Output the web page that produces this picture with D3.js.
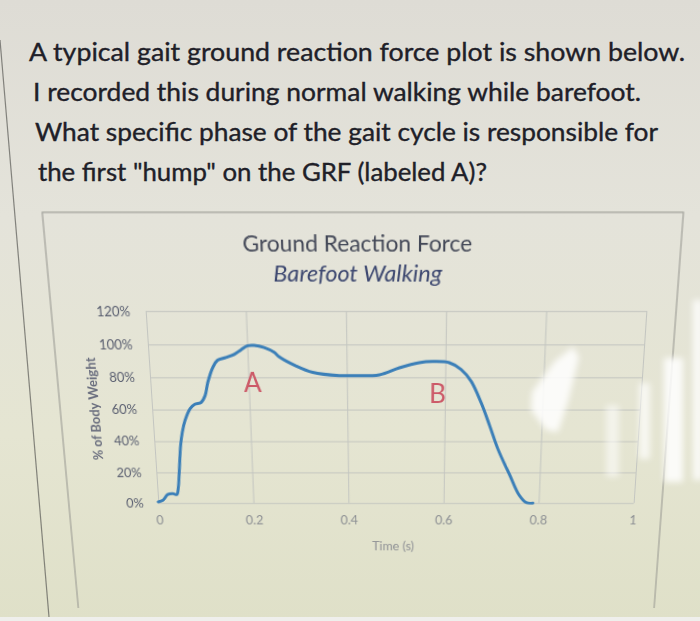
<!DOCTYPE html>
<html>
<head>
<meta charset="utf-8">
<title>Ground Reaction Force - Barefoot Walking</title>
<script src="https://d3js.org/d3.v7.min.js"></script>
<style>
  html, body { margin: 0; padding: 0; }
  body { width: 700px; height: 621px; position: relative; overflow: hidden; background: #e2e1d8; }
  svg { position: absolute; left: 0; top: 0; }
  /* the photo was taken of a tilted screen: top of the chart is closer */
  #chart { transform-origin: 396px 407px; transform: perspective(400px) rotateX(-6.2deg); }
  .question text { font-family: Lato, "Open Sans", sans-serif; font-size: 25px; fill: #202028; stroke: #202028; stroke-width: 0.35px; }
  .tick line { stroke: #c3c5c0; stroke-width: 1; }
  .y-axis text { font-family: Lato, sans-serif; font-size: 13px; fill: #5a5f70; }
  .x-axis text { font-family: Lato, sans-serif; font-size: 13px; fill: #8c8f93; }
  .axis-title { font-family: Lato, sans-serif; font-size: 13px; }
  .grf-line { fill: none; stroke: #3b7fb8; stroke-width: 3; stroke-linejoin: round; stroke-linecap: round; }
  .phase-label { font-family: Lato, sans-serif; font-size: 26px; fill: #cc5a68; text-anchor: middle; }
</style>
</head>
<body>
<svg id="bg" width="700" height="621"></svg>
<svg id="chart" width="700" height="621"></svg>
<svg id="glare" width="700" height="621"></svg>
<script>
// question text above the chart
const questionLines = [
  "A typical gait ground reaction force plot is shown below.",
  "I recorded this during normal walking while barefoot.",
  "What specific phase of the gait cycle is responsible for",
  "the first \"hump\" on the GRF (labeled A)?"
];

// chart texts
const chartTitle = "Ground Reaction Force";
const chartSubtitle = "Barefoot Walking";
const yAxisTitle = "% of Body Weight";
const xAxisTitle = "Time (s)";

// axes
const xTicks = [0, 0.2, 0.4, 0.6, 0.8, 1];
const xTickLabels = ["0", "0.2", "0.4", "0.6", "0.8", "1"];
const yTicks = [0, 20, 40, 60, 80, 100, 120];

// GRF curve
const timeS = [0, 0.010, 0.021, 0.032, 0.040, 0.044, 0.048, 0.054, 0.059, 0.066,
  0.078, 0.088, 0.101, 0.110, 0.117, 0.129, 0.139, 0.156, 0.173, 0.187,
  0.201, 0.214, 0.234, 0.254, 0.264, 0.297, 0.331, 0.385, 0.406, 0.466,
  0.507, 0.547, 0.574, 0.608, 0.632, 0.653, 0.674, 0.693, 0.711, 0.737,
  0.759, 0.774, 0.788];
const forcePct = [0.8, 1.9, 5.6, 6.1, 5.6, 10.2, 20.6, 37.3, 45.6, 53,
  60.6, 63.3, 64.4, 68.6, 76.9, 86.3, 90.4, 92.1, 94.0, 96.7,
  99.2, 99.4, 98.1, 95.2, 92.5, 87, 83, 81, 81, 81.5,
  85.8, 88.9, 89.6, 88.9, 84.8, 77.5, 64.4, 49.8, 35.2, 18.6,
  5, 0.3, 0];

// labels placed on the chart
const phaseLabels = ["A", "B"];
const phaseTime = [0.208, 0.585];
const phaseForce = [76.8, 69.6];

// ---------- background + question ----------
const bg = d3.select("#bg");
const grad = bg.append("defs").append("linearGradient")
  .attr("id", "paper").attr("x1", 0).attr("y1", 0).attr("x2", 0).attr("y2", 1);
grad.append("stop").attr("offset", "0%").attr("stop-color", "#dedcd5");
grad.append("stop").attr("offset", "35%").attr("stop-color", "#e4e3da");
grad.append("stop").attr("offset", "70%").attr("stop-color", "#e5e5d2");
grad.append("stop").attr("offset", "100%").attr("stop-color", "#dfe0c8");
bg.append("rect").attr("width", 700).attr("height", 621).attr("fill", "url(#paper)");
bg.append("rect").attr("y", 617).attr("width", 700).attr("height", 4).attr("fill", "#efefec");

// edge of the page seen on the left
bg.append("line").attr("x1", 0).attr("y1", 40).attr("x2", 49).attr("y2", 617)
  .attr("stroke", "#5a5a56").attr("stroke-width", 1.2).attr("opacity", 0.7);

const lineStarts = [29, 33, 35, 38];
const lineEnds = [685, 641, 658, 487];
const lineBase = [61, 101, 141, 181];
bg.append("g").attr("class", "question")
  .selectAll("text").data(questionLines).enter().append("text")
  .attr("x", (d, i) => lineStarts[i])
  .attr("y", (d, i) => lineBase[i])
  .attr("textLength", (d, i) => lineEnds[i] - lineStarts[i])
  .attr("lengthAdjust", "spacingAndGlyphs")
  .text(d => d);

// ---------- chart ----------
const svg = d3.select("#chart");

// chart area border
svg.append("rect")
  .attr("x", 60).attr("y", 221).attr("width", 609).attr("height", 600)
  .attr("fill", "none").attr("stroke", "#94948e").attr("stroke-width", 1);

const x = d3.scaleLinear().domain([0, 1]).range([152, 640]);
const y = d3.scaleLinear().domain([0, 120]).range([506.2, 312.9]);
const plotW = x.range()[1] - x.range()[0];
const plotH = y.range()[0] - y.range()[1];

const gx = svg.append("g").attr("class", "x-axis")
  .attr("transform", `translate(0,${y(0)})`)
  .call(d3.axisBottom(x).tickValues(xTicks)
    .tickFormat((d, i) => xTickLabels[i])
    .tickSize(-plotH).tickPadding(14));
gx.select(".domain").remove();

const gy = svg.append("g").attr("class", "y-axis")
  .attr("transform", `translate(${x(0)},0)`)
  .call(d3.axisLeft(y).tickValues(yTicks)
    .tickFormat(d => d + "%")
    .tickSize(-plotW).tickPadding(15));
gy.select(".domain").remove();
gy.selectAll(".tick").filter(d => d === 0).select("line").attr("stroke", "#a9aba7");
gx.selectAll("text").attr("font-family", null).attr("font-size", null);
gy.selectAll("text").attr("font-family", null).attr("font-size", null);
gx.attr("font-family", null).attr("font-size", null);
gy.attr("font-family", null).attr("font-size", null);

// titles
svg.append("text")
  .attr("x", 359).attr("y", 257.4)
  .attr("text-anchor", "middle")
  .attr("textLength", 220).attr("lengthAdjust", "spacingAndGlyphs")
  .style("font-family", "Lato, sans-serif").style("font-size", "21px")
  .style("fill", "#434857")
  .text(chartTitle);
svg.append("text")
  .attr("x", 359).attr("y", 285.4)
  .attr("text-anchor", "middle")
  .attr("textLength", 163).attr("lengthAdjust", "spacingAndGlyphs")
  .style("font-family", "Lato, sans-serif").style("font-size", "21px")
  .style("font-style", "italic").style("fill", "#3d4870")
  .text(chartSubtitle);

svg.append("text").attr("class", "axis-title")
  .attr("transform", `translate(99,${y(60)}) rotate(-90)`)
  .attr("text-anchor", "middle")
  .style("fill", "#6a6e7e").style("font-weight", "bold")
  .text(yAxisTitle);

svg.append("text").attr("class", "axis-title")
  .attr("x", 393).attr("y", 557)
  .attr("text-anchor", "middle")
  .style("fill", "#8f9195")
  .text(xAxisTitle);

// GRF line
const points = timeS.map((t, i) => [t, forcePct[i]]);
svg.append("path")
  .datum(points)
  .attr("class", "grf-line")
  .attr("d", d3.line()
    .x(d => x(d[0]))
    .y(d => y(d[1]))
    .curve(d3.curveCatmullRom.alpha(0.5)));

// A / B labels
svg.append("g").selectAll("text").data(phaseLabels).enter().append("text")
  .attr("class", "phase-label")
  .attr("x", (d, i) => x(phaseTime[i]))
  .attr("y", (d, i) => y(phaseForce[i]))
  .attr("dy", "0.36em")
  .text(d => d);

// ---------- screen glare ----------
const gl = d3.select("#glare");
const f = gl.append("defs").append("filter").attr("id", "blur")
  .attr("x", "-50%").attr("y", "-50%").attr("width", "200%").attr("height", "200%");
f.append("feGaussianBlur").attr("stdDeviation", 3);
const glareG = gl.append("g").attr("filter", "url(#blur)").attr("fill", "#ffffff");
glareG.append("path")
  .attr("d", "M532,392 L555,361 L573,347 L579,357 L568,402 L558,432 L546,430 L531,410 Z")
  .attr("opacity", 0.85);
glareG.append("rect").attr("x", 606).attr("y", 405).attr("width", 13).attr("height", 72).attr("opacity", 0.55);
glareG.append("rect").attr("x", 639).attr("y", 383).attr("width", 11).attr("height", 76).attr("opacity", 0.7);
glareG.append("rect").attr("x", 664).attr("y", 358).attr("width", 19).attr("height", 124).attr("opacity", 0.85);
glareG.append("rect").attr("x", 693).attr("y", 300).attr("width", 10).attr("height", 180).attr("opacity", 0.8);
</script>
</body>
</html>
